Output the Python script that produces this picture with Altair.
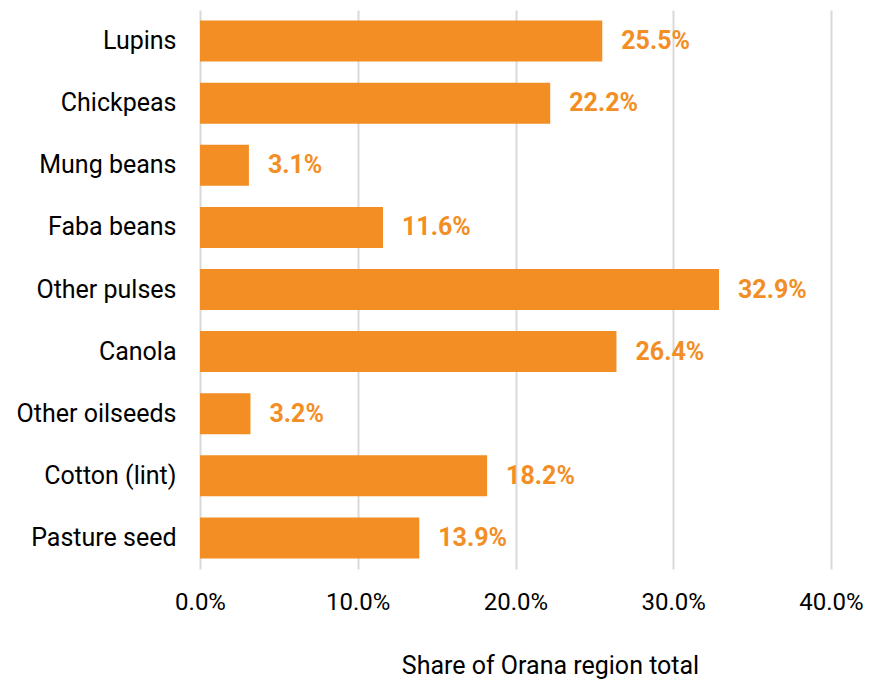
import altair as alt
import pandas as pd

categories = ["Lupins", "Chickpeas", "Mung beans", "Faba beans", "Other pulses",
              "Canola", "Other oilseeds", "Cotton (lint)", "Pasture seed"]
shares = [25.5, 22.2, 3.1, 11.6, 32.9, 26.4, 3.2, 18.2, 13.9]
tick_values = [0, 10, 20, 30, 40]

df = pd.DataFrame({"category": categories, "share": shares})
df["label"] = [f"{v:.1f}%" for v in shares]

ORANGE = "#F28E24"
FONT = "Roboto"

base = alt.Chart(df).encode(
    y=alt.Y("category:N", sort=categories, title=None,
            scale=alt.Scale(paddingInner=0.34, paddingOuter=0.17),
            axis=alt.Axis(domain=False, ticks=False, labelPadding=24,
                          labelFontSize=25, labelFont=FONT, labelColor="#000000",
                          labelLimit=300)),
    x=alt.X("share:Q", scale=alt.Scale(domain=[0, 40], nice=False),
            title="Share of Orana region total",
            axis=alt.Axis(values=tick_values, domain=False, ticks=False,
                          grid=True, gridColor="#D9D9D9", gridWidth=2,
                          labelExpr="format(datum.value, '.1f') + '%'",
                          labelFlush=False, labelOverlap=False,
                          labelFontSize=24, labelFont=FONT, labelColor="#000000",
                          labelPadding=21,
                          titleFontSize=25, titleFont=FONT, titleColor="#000000",
                          titleFontWeight="normal", titleX=350, titleY=84,
                          titleAnchor="middle")),
)

bars = base.mark_bar(color=ORANGE)

labels = base.mark_text(color=ORANGE, font=FONT, fontSize=25, fontWeight="bold",
                        align="left", baseline="middle", dx=19).encode(
    text="label:N",
)

chart = (bars + labels).properties(
    width=631, height=559,
    autosize=alt.AutoSizeParams(type="none"),
    padding={"left": 192, "top": 2, "right": 33, "bottom": 110},
).configure(background="white").configure_view(stroke=None)

chart.save("out.html", embed_options={"renderer": "svg", "actions": False})
